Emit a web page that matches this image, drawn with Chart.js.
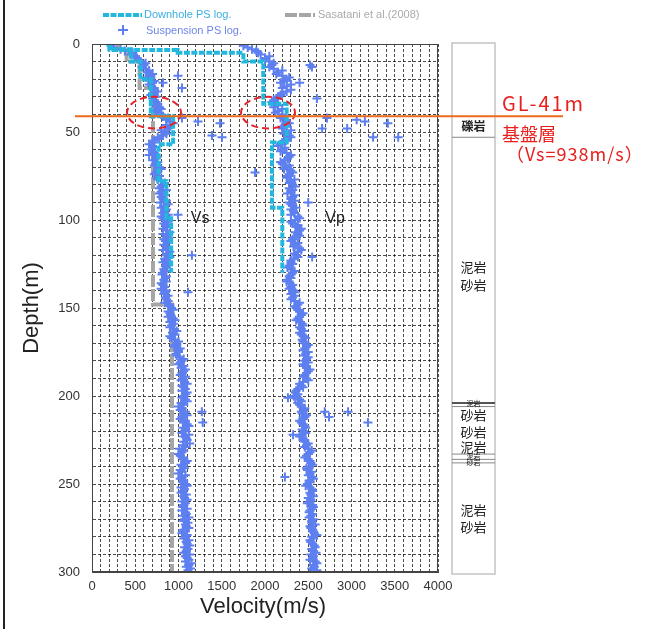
<!DOCTYPE html>
<html><head><meta charset="utf-8">
<script src="https://cdn.jsdelivr.net/npm/chart.js@4/dist/chart.umd.min.js"></script>
<style>html,body{margin:0;padding:0;background:#fff}#wrap{width:645px;height:629px;position:relative}</style>
</head><body><div id="wrap"><canvas id="c" width="645" height="629"></canvas></div>
<script>
// ---- Suspension PS log (depth m, velocity m/s) ----
const suspDepth = [2,4,6,8,10,12,14,16,18,20,22,24,26,28,30,32,34,36,38,40,42,44,46,48,50,52,54,56,58,60,62,64,66,68,70,72,74,76,78,80,82,84,86,88,90,92,94,96,98,100,102,104,106,108,110,112,114,116,118,120,122,124,126,128,130,132,134,136,138,140,142,144,146,148,150,152,154,156,158,160,162,164,166,168,170,172,174,176,178,180,182,184,186,188,190,192,194,196,198,200,202,204,206,208,210,212,214,216,218,220,222,224,226,228,230,232,234,236,238,240,242,244,246,248,250,252,254,256,258,260,262,264,266,268,270,272,274,276,278,280,282,284,286,288,290,292,294,296,298,300];
const suspVs = [250,380,450,520,560,600,620,640,680,650,700,690,720,700,740,720,760,780,740,800,880,900,860,880,840,820,780,720,700,680,720,750,700,740,780,760,720,750,800,820,780,800,840,820,790,830,860,820,800,850,830,870,860,820,880,850,830,870,900,860,840,820,850,830,820,860,830,800,840,860,830,850,880,900,920,880,910,940,900,920,950,930,900,960,980,950,1000,970,1010,1040,1000,1030,1060,1020,1050,1070,1040,1080,1100,1060,1080,1030,1000,1020,1060,1040,1080,1100,1050,1070,1120,1090,1060,1050,1010,1040,1020,1060,1080,1050,1020,1000,1040,1060,1080,1030,1050,1090,1070,1040,1060,1100,1080,1050,1070,1110,1090,1060,1040,1080,1120,1100,1070,1090,1130,1100,1080,1120,1140,1100];
const suspVp = [1800,1900,1950,2000,2050,2080,2100,2150,2200,2250,2180,2250,2300,2200,2150,2100,2120,2100,2150,2200,2180,2250,2230,2200,2250,2280,2260,2200,2150,2200,2250,2280,2230,2200,2250,2300,2280,2250,2300,2320,2280,2300,2340,2300,2280,2320,2300,2340,2380,2350,2320,2360,2400,2380,2340,2300,2350,2400,2380,2360,2330,2300,2280,2300,2320,2280,2260,2290,2300,2330,2300,2320,2350,2380,2360,2400,2420,2380,2410,2440,2420,2400,2450,2430,2460,2480,2440,2470,2500,2460,2440,2480,2500,2460,2480,2440,2420,2380,2350,2330,2400,2380,2420,2450,2430,2460,2400,2440,2470,2450,2420,2440,2460,2480,2500,2520,2480,2500,2530,2510,2490,2520,2540,2510,2490,2520,2550,2530,2500,2520,2550,2540,2510,2530,2560,2540,2520,2550,2570,2540,2520,2550,2580,2560,2530,2550,2580,2560,2540,2520];
const suspDepthB = [1,3,5,7,9,11,13,15,17,19,21,23,25,27,29,31,33,35,37,39,41,43,45,47,49,51,53,55,57,59,61,63,65,67,69,71,73,75,77,79,81,83,85,87,89,91,93,95,97,99,101,103,105,107,109,111,113,115,117,119,121,123,125,127,129,131,133,135,137,139,141,143,145,147,149,151,153,155,157,159,161,163,165,167,169,171,173,175,177,179,181,183,185,187,189,191,193,195,197,199,201,203,205,207,209,211,213,215,217,219,221,223,225,227,229,231,233,235,237,239,241,243,245,247,249,251,253,255,257,259,261,263,265,267,269,271,273,275,277,279,281,283,285,287,289,291,293,295,297,299];
const suspVsB = [220,330,470,500,540,620,580,660,700,620,720,660,700,760,680,700,740,720,800,760,820,860,940,900,800,860,760,700,660,720,700,660,740,760,720,800,740,780,760,840,800,860,780,800,860,880,800,840,880,820,880,850,820,900,860,830,880,860,820,880,900,850,880,860,840,810,850,860,820,800,850,880,860,840,900,940,900,880,960,940,900,980,960,920,1000,960,1020,1000,980,1060,1020,1060,1080,1040,1080,1030,1100,1060,1040,1080,1040,1100,1060,1040,1080,1100,1020,1060,1120,1080,1040,1060,1100,1130,1080,1060,1000,1050,1100,1030,1070,1040,1080,1020,1050,1100,1070,1030,1060,1100,1080,1050,1040,1090,1120,1060,1080,1120,1050,1100,1060,1090,1130,1110,1060,1080,1120,1150,1090,1110];
const suspVpB = [1750,1850,1920,2050,2000,2100,2050,2200,2130,2280,2220,2300,2200,2250,2180,2130,2080,2150,2200,2120,2250,2220,2280,2200,2300,2220,2300,2240,2180,2230,2180,2300,2260,2180,2280,2220,2320,2260,2340,2280,2350,2320,2260,2320,2350,2300,2360,2330,2300,2400,2300,2380,2420,2350,2400,2320,2380,2330,2420,2340,2380,2300,2320,2260,2340,2300,2300,2250,2320,2280,2350,2340,2300,2400,2340,2380,2440,2400,2360,2430,2400,2450,2420,2470,2440,2500,2460,2500,2450,2480,2500,2460,2520,2480,2450,2500,2400,2440,2360,2380,2350,2420,2400,2460,2420,2480,2440,2420,2460,2430,2470,2400,2450,2500,2460,2540,2500,2460,2520,2550,2480,2540,2500,2560,2520,2470,2540,2520,2560,2530,2490,2560,2520,2550,2510,2540,2580,2530,2550,2600,2560,2530,2570,2540,2590,2560,2520,2600,2570,2600];
// scattered readings away from the main trend
const outVsDepth = [18,22,25,42,44,45,52,53,97,120,141,209,215];
const outVs      = [994,820,1040,1040,1225,1480,1387,1503,994,1155,1110,1270,1280];
const outVpDepth = [12,13,22,31,42,43,44,45,48,48,53,53,73,90,121,201,209,209,212,215,222,246];
const outVp      = [2520,2543,2400,2600,2716,3060,3155,3420,2660,2950,3250,3540,1885,2500,2545,2265,2690,2960,2740,3190,2325,2230];

// ---- Downhole PS log (layer boundaries, layer velocities) ----
const dhVsBounds = [0,3,10,20,41,57,78,99,130];
const dhVs       = [200,450,560,680,938,770,860,915];
const dhVpBounds = [0,3.4,5,10,34,56,93,130];
const dhVp       = [210,990,1750,1980,2250,2080,2200];

// ---- Sasatani et al. (2008) ----
const sasBounds = [0,3,10,25,148,300];
const sasVs     = [300,400,550,705,925];

// ---- Axis ticks ----
const xTickLabels = [0,500,1000,1500,2000,2500,3000,3500,4000];
const yTickLabels = [0,50,100,150,200,250,300];

// ---- Geology column ----
const geoLines = [53,204,206,233,236,238];
const geoLinesBold = [204];
const geoText = [
  {t:'礫岩', d:47, s:12, b:true},
  {t:'泥岩', d:127, s:13},{t:'砂岩', d:137, s:13},
  {t:'泥岩', d:204, s:7},
  {t:'砂岩', d:211, s:13},{t:'砂岩', d:220.5, s:13},{t:'泥岩', d:229, s:13},
  {t:'泥岩', d:234.5, s:7},{t:'砂岩', d:237.5, s:7},
  {t:'泥岩', d:265, s:13},{t:'砂岩', d:274.5, s:13}
];
const ellipses = [{v:717,d:39,rv:312,rd:9},{v:2035,d:39,rv:312,rd:9}];
const baseDepth = 41;

function layers(b, v){ const p=[]; for(let i=0;i<v.length;i++){ p.push({x:v[i],y:b[i]}); p.push({x:v[i],y:b[i+1]}); } return p; }
function pts(d, v){ return d.map((dd,i)=>({x:v[i],y:dd})); }

const BLUE='#5d7ff0', CYAN='#22b8de', GRAY='#a6a6a6';

const deco = {
  id:'deco',
  beforeDraw(chart){ const c=chart.ctx; c.save(); c.fillStyle='#fff'; c.fillRect(0,0,chart.width,chart.height); c.restore(); },
  afterDatasetsDraw(chart){
    const ctx=chart.ctx, a=chart.chartArea, x=chart.scales.x, y=chart.scales.y;
    ctx.save();
    ctx.strokeStyle='#444'; ctx.lineWidth=1;
    ctx.strokeRect(a.left+0.5,a.top+0.5,a.right-a.left-1,a.bottom-a.top-1);
    // ellipses
    ctx.setLineDash([7,4]); ctx.strokeStyle='#e3242b'; ctx.lineWidth=2;
    ellipses.forEach(e=>{ const cx=x.getPixelForValue(e.v), cy=y.getPixelForValue(e.d);
      const rx=x.getPixelForValue(e.v+e.rv)-cx, ry=y.getPixelForValue(e.d+e.rd)-cy;
      ctx.beginPath(); ctx.ellipse(cx,cy,rx,ry,0,0,Math.PI*2); ctx.stroke(); });
    ctx.setLineDash([]);
    // Vs / Vp labels
    ctx.fillStyle='#222'; ctx.font='16px Arial'; ctx.textAlign='center'; ctx.textBaseline='middle';
    ctx.fillText('Vs', x.getPixelForValue(1250), y.getPixelForValue(99));
    ctx.fillText('Vp', x.getPixelForValue(2810), y.getPixelForValue(99));
    // geology column
    const gl=a.right+14, gr=a.right+57;
    ctx.strokeStyle='#c4c4c4'; ctx.lineWidth=1.5;
    ctx.strokeRect(gl, a.top-1, gr-gl, a.bottom-a.top+3);
    geoLines.forEach(d=>{ const py=y.getPixelForValue(d); ctx.beginPath();
      ctx.strokeStyle = geoLinesBold.includes(d)?'#555':'#888'; ctx.lineWidth = geoLinesBold.includes(d)?2:1;
      ctx.moveTo(gl,py); ctx.lineTo(gr,py); ctx.stroke(); });
    ctx.fillStyle='#222';
    geoText.forEach(g=>{ ctx.font=(g.b?'bold ':'')+g.s+'px "Noto Sans CJK JP"'; ctx.fillText(g.t,(gl+gr)/2,y.getPixelForValue(g.d)); });
    // base line GL-41m
    const by=y.getPixelForValue(baseDepth);
    ctx.strokeStyle='#ec6a1c'; ctx.lineWidth=2;
    ctx.beginPath(); ctx.moveTo(a.left-17,by); ctx.lineTo(a.right+125,by); ctx.stroke();
    // red annotation
    ctx.fillStyle='#e8201e'; ctx.textAlign='left';
    ctx.font='20px "Noto Sans CJK JP"'; ctx.letterSpacing='2px';
    ctx.fillText('GL-41m', a.right+64, by-13);
    ctx.font='18px "Noto Sans CJK JP"'; ctx.letterSpacing='0px';
    ctx.fillText('基盤層', a.right+64, by+18);
    ctx.letterSpacing='1px';
    ctx.fillText('（Vs=938m/s）', a.right+68, by+38);
    ctx.letterSpacing='0px';
    // axis titles
    ctx.fillStyle='#222'; ctx.font='22px Arial'; ctx.textAlign='center';
    ctx.fillText('Velocity(m/s)', (a.left+a.right)/2-2, 607);
    ctx.save(); ctx.translate(32,(a.top+a.bottom)/2); ctx.rotate(-Math.PI/2); ctx.fillText('Depth(m)',0,0); ctx.restore();
    // legend
    ctx.font='11px Arial'; ctx.textAlign='left';
    ctx.strokeStyle=CYAN; ctx.lineWidth=4; ctx.setLineDash([6,1.5]);
    ctx.beginPath(); ctx.moveTo(103,15); ctx.lineTo(142,15); ctx.stroke();
    ctx.strokeStyle=GRAY; ctx.setLineDash([12,2]);
    ctx.beginPath(); ctx.moveTo(285,15); ctx.lineTo(315,15); ctx.stroke();
    ctx.setLineDash([]);
    ctx.fillStyle='#3aaee2'; ctx.fillText('Downhole PS log.',144,15);
    ctx.fillStyle='#6f86ea'; ctx.fillText('Suspension PS log.',146,31);
    ctx.fillStyle='#aaaaaa'; ctx.fillText('Sasatani et al.(2008)',318,15);
    ctx.strokeStyle=BLUE; ctx.lineWidth=2;
    ctx.beginPath(); ctx.moveTo(118,30); ctx.lineTo(128,30); ctx.moveTo(123,25); ctx.lineTo(123,35); ctx.stroke();
    // left frame line
    ctx.strokeStyle='#222'; ctx.lineWidth=2; ctx.beginPath(); ctx.moveTo(4,0); ctx.lineTo(4,629); ctx.stroke();
    ctx.restore();
  }
};

new Chart(document.getElementById('c'), {
  type:'scatter',
  data:{ datasets:[
    {label:'Downhole Vs', data:layers(dhVsBounds,dhVs), showLine:true, borderColor:CYAN, borderWidth:4, borderDash:[6,1.5], pointRadius:0, fill:false},
    {label:'Downhole Vp', data:layers(dhVpBounds,dhVp), showLine:true, borderColor:CYAN, borderWidth:4, borderDash:[6,1.5], pointRadius:0, fill:false},
    {label:'Suspension Vs', data:pts(suspDepth,suspVs).concat(pts(suspDepthB,suspVsB),pts(outVsDepth,outVs)), pointStyle:'cross', pointRadius:4.5, pointBorderWidth:2, borderColor:BLUE, backgroundColor:BLUE},
    {label:'Suspension Vp', data:pts(suspDepth,suspVp).concat(pts(suspDepthB,suspVpB),pts(outVpDepth,outVp)), pointStyle:'cross', pointRadius:4.5, pointBorderWidth:2, borderColor:BLUE, backgroundColor:BLUE},
    {label:'Sasatani', data:layers(sasBounds,sasVs), showLine:true, borderColor:GRAY, borderWidth:4, borderDash:[12,2], pointRadius:0, fill:false}
  ]},
  options:{
    responsive:false, animation:false, devicePixelRatio:1,
    layout:{padding:{left:0,right:207,top:44,bottom:0}},
    plugins:{legend:{display:false}, tooltip:{enabled:false}},
    scales:{
      x:{type:'linear', min:0, max:4000,
        afterFit(s){ s.height=57; },
        afterBuildTicks(s){ s.ticks=[]; for(let v=0; v<=4000; v+=100) s.ticks.push({value:v}); },
        ticks:{autoSkip:false, maxRotation:0, padding:7, color:'#333', font:{family:'Arial', size:13},
          callback:(v)=> xTickLabels.includes(v)? String(v):''},
        grid:{color:'rgba(0,0,0,0.7)', lineWidth:1, drawTicks:false},
        border:{color:'#444', dash:[3,2]}
      },
      y:{type:'linear', reverse:true, min:0, max:300,
        afterFit(s){ s.width=92; },
        afterBuildTicks(s){ s.ticks=[]; for(let v=0; v<=300; v+=10) s.ticks.push({value:v}); },
        ticks:{autoSkip:false, padding:12, color:'#333', font:{family:'Arial', size:13},
          callback:(v)=> yTickLabels.includes(v)? String(v):''},
        grid:{color:'rgba(0,0,0,0.7)', lineWidth:1, drawTicks:false},
        border:{color:'#444', dash:[3,2]}
      }
    }
  },
  plugins:[deco]
});
</script></body></html>
